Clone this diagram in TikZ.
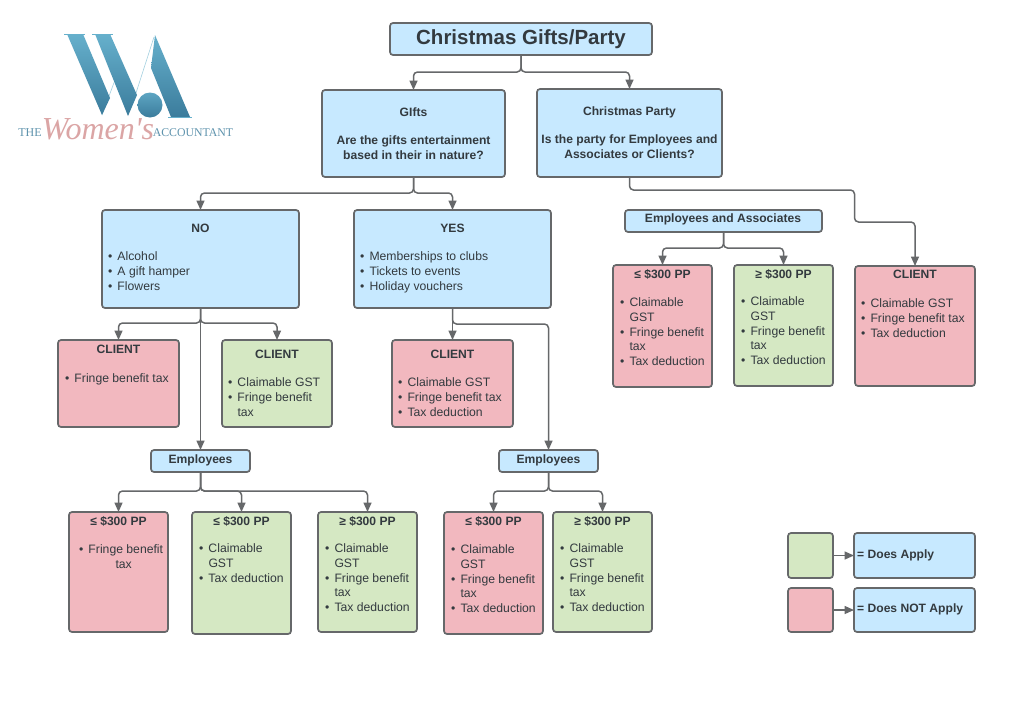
\documentclass[tikz,border=0pt]{standalone}
\usepackage{fontspec}
\setmainfont{Liberation Sans}
\newfontfamily\logoserif{Liberation Serif}
\usetikzlibrary{calc,arrows.meta}
\definecolor{bluef}{HTML}{C7E9FF}
\definecolor{pinkf}{HTML}{F2B8BF}
\definecolor{greenf}{HTML}{D5E8C3}
\definecolor{linec}{HTML}{66686A}
\definecolor{textc}{HTML}{333A3F}
\definecolor{logoa}{HTML}{66B0CC}
\definecolor{logob}{HTML}{3B7C9C}
\definecolor{logop}{HTML}{DBA5A5}
\definecolor{logot}{HTML}{5E93AD}
\newcommand\bx[6]{\node[boxn,fill=#6,minimum width={#4-#2},minimum height={#5-#3}] (#1) at ({(#2+#4)/2},{(#3+#5)/2}) {};}
\newcommand\hd[4]{\node[headn] (#1) at (#2,#3) {#4};}
\newcommand\bul[4]{\node[buln] (#1) at (#2,#3) {#4};}
\newcommand\bi{\makebox[9.3pt][l]{•}}
\newcommand\ci{\hspace*{9.3pt}}
\tikzset{
 x=1pt,y=-1pt,
 boxn/.style={draw=linec,line width=1.7pt,rounded corners=3pt,inner sep=0pt,outer sep=0pt},
 headn/.style={inner sep=0pt,yshift=-1.5pt,text=textc,font=\fontsize{12.1}{14.7}\selectfont\bfseries,align=center},
 buln/.style={inner sep=0pt,yshift=-1.8pt,anchor=north west,text=textc,align=left,font=\fontsize{12.2}{14.7}\selectfont},
 conn/.style={draw=linec,line width=1.5pt,rounded corners=4pt,-{Triangle[length=9.5pt,width=8pt]}},
}
\begin{document}
\begin{tikzpicture}
\useasboundingbox (0,0) rectangle (1024,723);
\fill[white] (0,0) rectangle (1024,723);
% logo
\draw[logoa!60,line width=.6pt] (102,115) -- (115,80);
\draw[logoa!60,line width=.6pt] (136,93) -- (154,37);
\shade[top color=logoa,bottom color=logob] (67,34) -- (83,34) -- (110,98) -- (102,115) -- cycle;
\shade[top color=logoa,bottom color=logob] (95,34) -- (110,34) -- (137,95) -- (128,116) -- cycle;
\shade[top color=logoa,bottom color=logob] (155,35) -- (190,117) -- (171,117) -- (151,68) -- cycle;
\shade[top color=logoa!80!logob,bottom color=logob] (150,105) circle (12.5);
\draw[logoa,line width=.8pt] (64,34) -- (85,34) (92,34) -- (113,34) (168,117) -- (192,117);
\node[inner sep=0pt,text=logot,font=\logoserif\fontsize{12}{12}\selectfont] (logothe) at (30,133) {THE};
\node[inner sep=0pt,text=logot,font=\logoserif\fontsize{11.8}{12}\selectfont] (logoacc) at (193,133) {ACCOUNTANT};
\node[inner sep=0pt,text=logop,font=\logoserif\itshape\fontsize{32}{32}\selectfont] (logow) at (98,129) {Women's};
% boxes
\bx{title}{390}{23}{652}{55}{bluef}
\bx{gifts}{322}{90}{505}{177}{bluef}
\bx{party}{537}{89}{722}{177}{bluef}
\bx{no}{102}{210}{299}{308}{bluef}
\bx{yes}{354}{210}{551}{308}{bluef}
\bx{ea}{625}{210}{822}{232}{bluef}
\bx{ca}{58}{340}{179}{427}{pinkf}
\bx{cb}{222}{340}{332}{427}{greenf}
\bx{cc}{392}{340}{513}{427}{pinkf}
\bx{empa}{151}{450}{250}{472}{bluef}
\bx{empb}{499}{450}{598}{472}{bluef}
\bx{ba}{69}{512}{168}{632}{pinkf}
\bx{bb}{192}{512}{291}{634}{greenf}
\bx{bc}{318}{512}{417}{632}{greenf}
\bx{bd}{444}{512}{543}{634}{pinkf}
\bx{be}{553}{512}{652}{632}{greenf}
\bx{pa}{613}{265}{712}{387}{pinkf}
\bx{pb}{734}{265}{833}{386}{greenf}
\bx{pc}{855}{266}{975}{386}{pinkf}
\bx{lga}{788}{533}{833}{578}{greenf}
\bx{lpa}{788}{588}{833}{632}{pinkf}
\bx{lgb}{854}{533}{975}{578}{bluef}
\bx{lpb}{854}{588}{975}{632}{bluef}
% connectors
\draw[conn] (title.south) -- ++(0,17) -| (gifts.north);
\draw[conn] (title.south) -- ++(0,17) -| (party.north);
\draw[conn] (gifts.south) -- ++(0,16) -| (no.north);
\draw[conn] (gifts.south) -- ++(0,16) -| (yes.north);
\draw[conn] (party.south) -- ++(0,13) -- ++(225,0) -- ++(0,32) -| (pc.north);
\draw[conn] (ea.south) -- ++(0,16) -| (pa.north);
\draw[conn] (ea.south) -- ++(0,16) -| (pb.north);
\draw[conn] (no.south) -- ++(0,15) -| (ca.north);
\draw[conn] (no.south) -- ++(0,15) -| (cb.north);
\draw[conn] (no.south) -- (empa.north);
\draw[conn] (yes.south) -- (cc.north);
\draw[conn] (yes.south) -- ++(0,16) -| (empb.north);
\draw[conn] (empa.south) -- ++(0,19) -| (ba.north);
\draw[conn] (empa.south) -- ++(0,19) -| (bb.north);
\draw[conn] (empa.south) -- ++(0,19) -| (bc.north);
\draw[conn] (empb.south) -- ++(0,19) -| (bd.north);
\draw[conn] (empb.south) -- ++(0,19) -| (be.north);
\draw[conn] (lga.east) -- (lgb.west);
\draw[conn] (lpa.east) -- (lpb.west);
% text
\node[headn,font=\fontsize{20.5}{24}\selectfont\bfseries] (ttitle) at (521,37.5) {Christmas Gifts/Party};
\hd{tgifts}{413.5}{132}{GIfts\\[13.5pt]Are the gifts entertainment\\based in their in nature?}
\hd{tparty}{629.5}{131}{Christmas Party\\[13.5pt]Is the party for Employees and\\Associates or Clients?}
\hd{tno}{200.5}{226.5}{NO}
\bul{lno}{108}{250}{\bi Alcohol\\\bi A gift hamper\\\bi Flowers}
\hd{tyes}{452.5}{226.5}{YES}
\bul{lyes}{360}{250}{\bi Memberships to clubs\\\bi Tickets to events\\\bi Holiday vouchers}
\hd{tea}{723}{218}{Employees and Associates}
\hd{tca}{118.5}{347.5}{CLIENT}
\bul{lca}{65}{372}{\bi Fringe benefit tax}
\hd{tcb}{277}{352.5}{CLIENT}
\bul{lcb}{228}{376}{\bi Claimable GST\\\bi Fringe benefit\\\ci tax}
\hd{tcc}{452.5}{352.5}{CLIENT}
\bul{lcc}{398}{376}{\bi Claimable GST\\\bi Fringe benefit tax\\\bi Tax deduction}
\hd{tempa}{200.5}{459}{Employees}
\hd{tempb}{548.5}{459}{Employees}
\hd{tba}{118.5}{520}{≤ \$300 PP}
\bul{lba}{79}{543}{\bi Fringe benefit\\\ci\hspace*{27pt}tax}
\hd{tbb}{241.5}{520}{≤ \$300 PP}
\bul{lbb}{199}{542}{\bi Claimable\\\ci GST\\\bi Tax deduction}
\hd{tbc}{367.5}{520}{≥ \$300 PP}
\bul{lbc}{325}{542}{\bi Claimable\\\ci GST\\\bi Fringe benefit\\\ci tax\\\bi Tax deduction}
\hd{tbd}{493.5}{520}{≤ \$300 PP}
\bul{lbd}{451}{543}{\bi Claimable\\\ci GST\\\bi Fringe benefit\\\ci tax\\\bi Tax deduction}
\hd{tbe}{602.5}{520}{≥ \$300 PP}
\bul{lbe}{560}{542}{\bi Claimable\\\ci GST\\\bi Fringe benefit\\\ci tax\\\bi Tax deduction}
\hd{tpa}{662.5}{273}{≤ \$300 PP}
\bul{lpa2}{620}{296}{\bi Claimable\\\ci GST\\\bi Fringe benefit\\\ci tax\\\bi Tax deduction}
\hd{tpb}{783.5}{273}{≥ \$300 PP}
\bul{lpb2}{741}{295}{\bi Claimable\\\ci GST\\\bi Fringe benefit\\\ci tax\\\bi Tax deduction}
\hd{tpc}{915}{273}{CLIENT}
\bul{lpc}{861}{297}{\bi Claimable GST\\\bi Fringe benefit tax\\\bi Tax deduction}
\node[headn,anchor=west] (tlg) at (857,554) {= Does Apply};
\node[headn,anchor=west] (tlp) at (857,608) {= Does NOT Apply};
\end{tikzpicture}
\end{document}
